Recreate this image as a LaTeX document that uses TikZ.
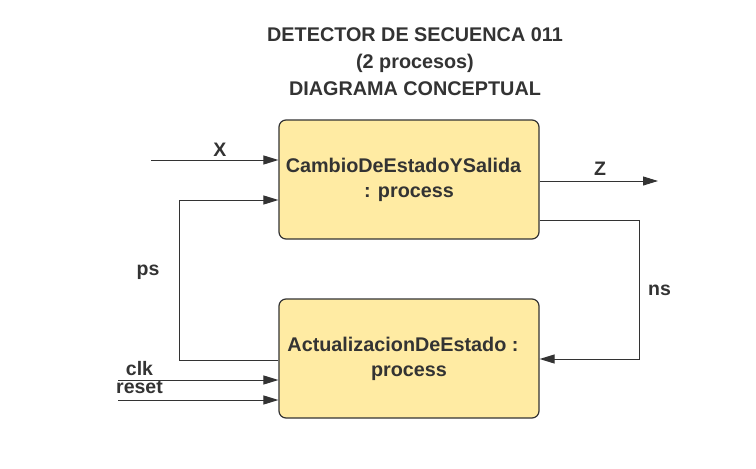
\documentclass[tikz,border=0pt]{standalone}
\usepackage{fontspec}
\setmainfont{Liberation Sans}
\usetikzlibrary{arrows.meta}
\definecolor{ink}{HTML}{333333}
\definecolor{boxfill}{HTML}{FFEBA3}
\begin{document}
\begin{tikzpicture}[x=1pt,y=-1pt,
  procbox/.style={draw=ink, fill=boxfill, line width=1.2pt, rounded corners=7pt,
    minimum width=260pt, minimum height=119pt, inner sep=0pt, align=center,
    text=ink, font=\bfseries\fontsize{19.8}{25}\selectfont},
  titlestyle/.style={align=center, text=ink, inner sep=0pt,
    font=\bfseries\fontsize{19.8}{27}\selectfont},
  lbl/.style={text=ink, font=\bfseries\fontsize{19.5}{23}\selectfont, inner sep=0pt, anchor=base},
  conn/.style={draw=ink, line width=1pt},
  arr/.style={conn, -{Triangle[length=15pt,width=9pt]}}]
\useasboundingbox (0,0) rectangle (756,469);
\fill[white] (0,0) rectangle (756,469);

\node[titlestyle] (title) at (415,61.5) {DETECTOR DE SECUENCA 011\\(2 procesos)\\DIAGRAMA CONCEPTUAL};

\node[procbox] (cambio) at (409,179.5) {CambioDeEstadoYSalida\hspace*{11pt}\\: process};
\node[procbox] (actual) at (409,358.5) {ActualizacionDeEstado :\hspace*{12pt}\\process};

\coordinate (xin) at (151,160);
\coordinate (zout) at (658,181);
\coordinate (psL) at (179,360);
\coordinate (psT) at (179,200);
\coordinate (nsR) at (639,220);
\coordinate (nsB) at (639,359);
\coordinate (clkin) at (118,380);
\coordinate (rstin) at (118,400);

\draw[arr] (xin) -- (xin -| cambio.west);
\draw[arr] (actual.west |- psL) -- (psL) -- (psT) -- (psT -| cambio.west);
\draw[arr] (cambio.east |- zout) -- (zout);
\draw[arr] (cambio.east |- nsR) -- (nsR) -- (nsB) -- (nsB -| actual.east);
\draw[arr] (clkin) -- (clkin -| actual.west);
\draw[arr] (rstin) -- (rstin -| actual.west);

\node[lbl] (lx) at (220,156) {X};
\node[lbl] (lz) at (600,175) {Z};
\node[lbl] (lps) at (148,275) {ps};
\node[lbl] (lns) at (659.5,295.5) {ns};
\node[lbl] (lclk) at (139.5,375) {clk};
\node[lbl] (lrst) at (139.5,393) {reset};
\end{tikzpicture}
\end{document}
